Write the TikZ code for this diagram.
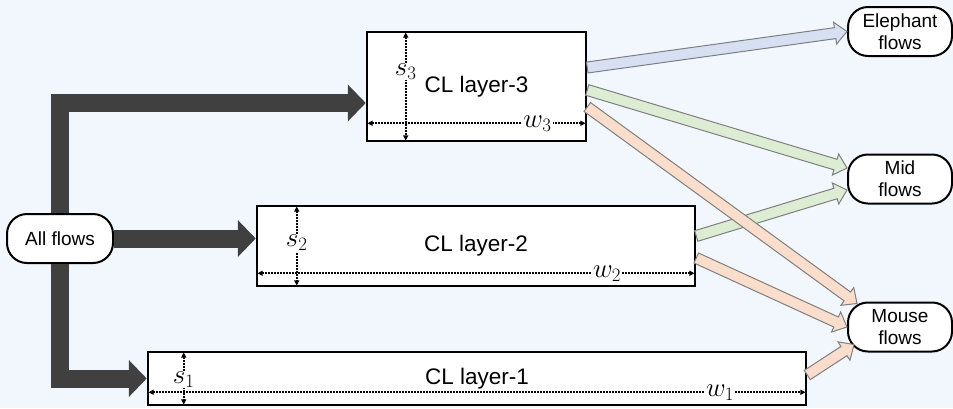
\RequirePackage{fix-cm}
\documentclass[tikz,border=0pt]{standalone}
\usepackage{fontspec}
\setmainfont{Liberation Sans}
\usetikzlibrary{arrows.meta,calc}
\definecolor{bg}{HTML}{F2F7FE}
\definecolor{dark}{HTML}{404040}
\definecolor{bluef}{HTML}{D6E0F2}
\definecolor{greenf}{HTML}{DDEDD3}
\definecolor{orangef}{HTML}{FADDCB}
\definecolor{edgegray}{HTML}{7F7F7F}
\newcommand\blockarrow[3]{%
  \coordinate (ba-A) at #2;
  \coordinate (ba-B) at #3;
  \coordinate (ba-H) at ($(ba-B)!12pt!(ba-A)$);
  \draw[flowline, fill=#1] ($(ba-A)!5.5pt!90:(ba-B)$) -- ($(ba-H)!5.5pt!-90:(ba-A)$) -- ($(ba-H)!11pt!-90:(ba-A)$) -- (ba-B) -- ($(ba-H)!11pt!90:(ba-A)$) -- ($(ba-H)!5.5pt!90:(ba-A)$) -- ($(ba-A)!5.5pt!-90:(ba-B)$) -- cycle;
}
\begin{document}
\begin{tikzpicture}[x=1pt,y=-1pt,
  layerbox/.style={draw=black, line width=2.5pt, fill=white, inner sep=0pt,
    font=\fontsize{22.5}{26}\selectfont},
  flownode/.style={draw=black, line width=2pt, fill=white, rounded corners=20pt,
    minimum width=104pt, minimum height=49pt, inner sep=0pt, align=center,
    font=\fontsize{19}{22}\selectfont},
  bigarrow/.style={draw=dark, line width=18pt, line join=miter,
    -{Triangle[length=18pt,width=36pt]}},
  flowline/.style={draw=edgegray, line width=1pt, line join=miter},
  dimarrow/.style={line width=1.8pt, dash pattern=on 1.5pt off 1.5pt,
    {Triangle[length=5pt,width=5pt]}-{Triangle[length=5pt,width=5pt]}},
  dimlabel/.style={fill=white, inner sep=1pt, font=\fontsize{27}{30}\selectfont}
]
\fill[bg] (0,0) rectangle (953,408);
\useasboundingbox (0,0) rectangle (953,408);

% nodes
\node[flownode, minimum width=106pt] (AF) at (60,238.5) {All flows};
\node[layerbox, minimum width=219pt, minimum height=109pt] (L3) at (476.5,86.5) {CL layer-3};
\node[layerbox, minimum width=438pt, minimum height=80pt] (L2) at (476,246) {CL layer-2};
\node[layerbox, minimum width=658pt, minimum height=53pt] (L1) at (477,378.5) {CL layer-1};
\node[flownode] (EF) at (900,31.5) {Elephant\\flows};
\node[flownode] (MF) at (900,179) {Mid\\flows};
\node[flownode] (SF) at (900,327) {Mouse\\flows};

% thick arrows
\draw[bigarrow] (AF.north) |- ([yshift=-16.5pt]L3.west);
\draw[bigarrow] (AF.east) -- (AF.east -| L2.west);
\draw[bigarrow] (AF.south) |- (L1.west);

% dimension arrows
\draw[dimarrow] ([shift={(40pt,-1.8pt)}]L3.north west) -- node[dimlabel, pos=0.36] (s3) {$s_3$} ([shift={(40pt,1.8pt)}]L3.south west);
\draw[dimarrow] ([shift={(1.8pt,19pt)}]L3.south west) -- node[dimlabel, pos=0.78] (w3) {$w_3$} ([shift={(-1.8pt,19pt)}]L3.south east);
\draw[dimarrow] ([shift={(41pt,-1.8pt)}]L2.north west) -- node[dimlabel, pos=0.46] (s2) {$s_2$} ([shift={(41pt,1.8pt)}]L2.south west);
\draw[dimarrow] ([shift={(1.8pt,14pt)}]L2.south west) -- node[dimlabel, pos=0.80] (w2) {$w_2$} ([shift={(-1.8pt,14pt)}]L2.south east);
\draw[dimarrow] ([shift={(37pt,-1.8pt)}]L1.north west) -- node[dimlabel, pos=0.52] (s1) {$s_1$} ([shift={(37pt,1.8pt)}]L1.south west);
\draw[dimarrow] ([shift={(1.8pt,14pt)}]L1.south west) -- node[dimlabel, pos=0.87] (w1) {$w_1$} ([shift={(-1.8pt,14pt)}]L1.south east);

% colored flow arrows
\blockarrow{bluef}{([yshift=19pt]L3.east)}{(EF.west)}
\blockarrow{greenf}{([yshift=-3.5pt]L3.east)}{([yshift=11pt]MF.west)}
\blockarrow{greenf}{([yshift=10pt]L2.east)}{([yshift=-11pt]MF.west)}
\blockarrow{orangef}{([yshift=-20.5pt]L3.east)}{([shift={(10pt,-2pt)}]SF.north west)}
\blockarrow{orangef}{([yshift=-12pt]L2.east)}{(SF.west)}
\blockarrow{orangef}{([yshift=3.5pt]L1.east)}{([shift={(7pt,8pt)}]SF.south west)}
\end{tikzpicture}
\end{document}
